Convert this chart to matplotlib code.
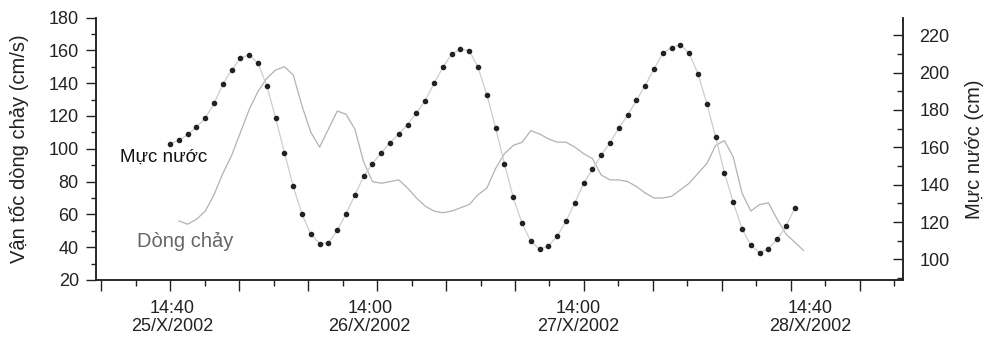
"""
Mực nước và vận tốc dòng chảy, 25-28/X/2002.
Trục trái: dòng chảy (cm/s), trục phải: mực nước (cm).
"""

import numpy as np
import matplotlib
matplotlib.use("Agg")
import matplotlib.pyplot as plt
import matplotlib.ticker as mticker

plt.rcParams["font.family"] = ["Liberation Sans", "DejaVu Sans"]

# ──────────────────────────────────────────────────────────────────────────────
# Data (giờ tính từ 14:40 25/X/2002)
# ──────────────────────────────────────────────────────────────────────────────

gio_muc_nuoc = np.arange(0, 72)
muc_nuoc = [
    161.9, 163.7, 166.9, 170.8, 175.7, 183.5, 193.8, 201.4, 207.6, 209.7,
    204.9, 192.9, 175.7, 157.1, 139.1, 124.1, 113.4, 108.5, 108.8, 115.6,
    124.4, 134.5, 144.4, 151.3, 157.1, 162.5, 167.2, 172.2, 178.4, 185.0,
    194.3, 202.8, 209.9, 212.6, 211.7, 202.8, 188.2, 170.4, 151.3, 133.2,
    119.4, 109.7, 105.5, 107.2, 112.5, 120.5, 130.3, 140.7, 148.3, 155.8,
    162.5, 170.4, 177.2, 185.1, 193.1, 202.0, 210.3, 213.4, 215.0, 210.3,
    199.3, 183.4, 165.5, 146.5, 130.6, 116.5, 107.6, 103.5, 105.8, 110.8,
    117.7, 127.6,
]

gio_dong_chay = np.arange(1, 73)
dong_chay = [
    56, 54, 57, 62, 72, 85, 96, 110, 124, 135,
    143, 148, 150, 145, 126, 110, 101, 112, 123, 121,
    112, 92, 80, 79, 80, 81, 76, 70, 65, 62,
    61, 62, 64, 66, 72, 76, 88, 97, 102, 104,
    111, 109, 106, 104, 104, 101, 97, 94, 84, 81,
    81, 80, 77, 73, 70, 70, 71, 75, 79, 85,
    91, 102, 105, 95, 73, 62, 66, 67, 57, 48,
    43, 38,
]

# label anchors as drawn in the source (hours, roughly where they sit)
nhan_gio = [0.2, 22.7, 46.4, 72.7]
nhan_text = ["14:40\n25/X/2002", "14:00\n26/X/2002",
             "14:00\n27/X/2002", "14:40\n28/X/2002"]

_INK = "#222222"

# ──────────────────────────────────────────────────────────────────────────────
# Plot
# ──────────────────────────────────────────────────────────────────────────────

fig = plt.figure(figsize=(9.87, 3.42), dpi=100)
ax = fig.add_axes([0.0968, 0.1813, 0.8176, 0.7675])
ax2 = ax.twinx()

ax.plot(gio_dong_chay, dong_chay, color="#b2b2b2", lw=0.9)
ax2.plot(gio_muc_nuoc, muc_nuoc, color="#cdcdcd", lw=0.9,
         marker="o", ms=3.0, mfc=_INK, mec=_INK)

# axes limits
ax.set_xlim(-8.47, 83.24)
ax.set_ylim(20, 180)
ax2.set_ylim(89, 229.5)

# x ticks: long ticks ~7.84 h apart, short ones half-way
step = 7.84
ax.set_xticks(np.arange(-1, 11) * step)
ax.set_xticks((np.arange(-1, 11) + 0.5) * step, minor=True)
ax.set_xticklabels([])
ax.tick_params(axis="x", which="major", direction="out", length=8,
               width=1.0, color=_INK)
ax.tick_params(axis="x", which="minor", direction="out", length=4,
               width=1.0, color=_INK)
for g, s in zip(nhan_gio, nhan_text):
    ax.text(g, -0.075, s, transform=ax.get_xaxis_transform(),
            ha="center", va="top", fontsize=13, color=_INK, linespacing=1.12)

# left y axis
ax.yaxis.set_major_locator(mticker.MultipleLocator(20))
ax.yaxis.set_minor_locator(mticker.MultipleLocator(10))
ax.tick_params(axis="y", which="major", direction="out", length=7,
               width=1.0, color=_INK, labelsize=13, labelcolor=_INK, pad=5)
ax.tick_params(axis="y", which="minor", direction="out", length=3.5,
               width=1.0, color=_INK)
ax.set_ylabel("Vận tốc dòng chảy (cm/s)", fontsize=14.5, color=_INK)
ax.yaxis.set_label_coords(-0.083, 0.5)

# right y axis
ax2.yaxis.set_major_locator(mticker.FixedLocator(np.arange(100, 221, 20)))
ax2.yaxis.set_minor_locator(mticker.MultipleLocator(10))
ax2.tick_params(axis="y", which="major", direction="in", length=7,
                width=1.0, color=_INK, labelsize=13, labelcolor=_INK, pad=12)
ax2.tick_params(axis="y", which="minor", direction="in", length=4.5,
                width=1.0, color=_INK)
ax2.set_ylabel("Mực nước (cm)", fontsize=14.5, color=_INK)
ax2.yaxis.set_label_coords(1.077, 0.5)

for a in (ax, ax2):
    a.spines["top"].set_visible(False)
    for side in ("left", "right", "bottom"):
        a.spines[side].set_color(_INK)
        a.spines[side].set_linewidth(1.1)

# series labels
ax.text(-5.7, 95, "Mực nước", fontsize=13.5, color="#111111",
        ha="left", va="center")
ax.text(-3.75, 43.5, "Dòng chảy", fontsize=14.5, color="#666666",
        ha="left", va="center")

fig.savefig("out.png", dpi=100)
plt.close(fig)
